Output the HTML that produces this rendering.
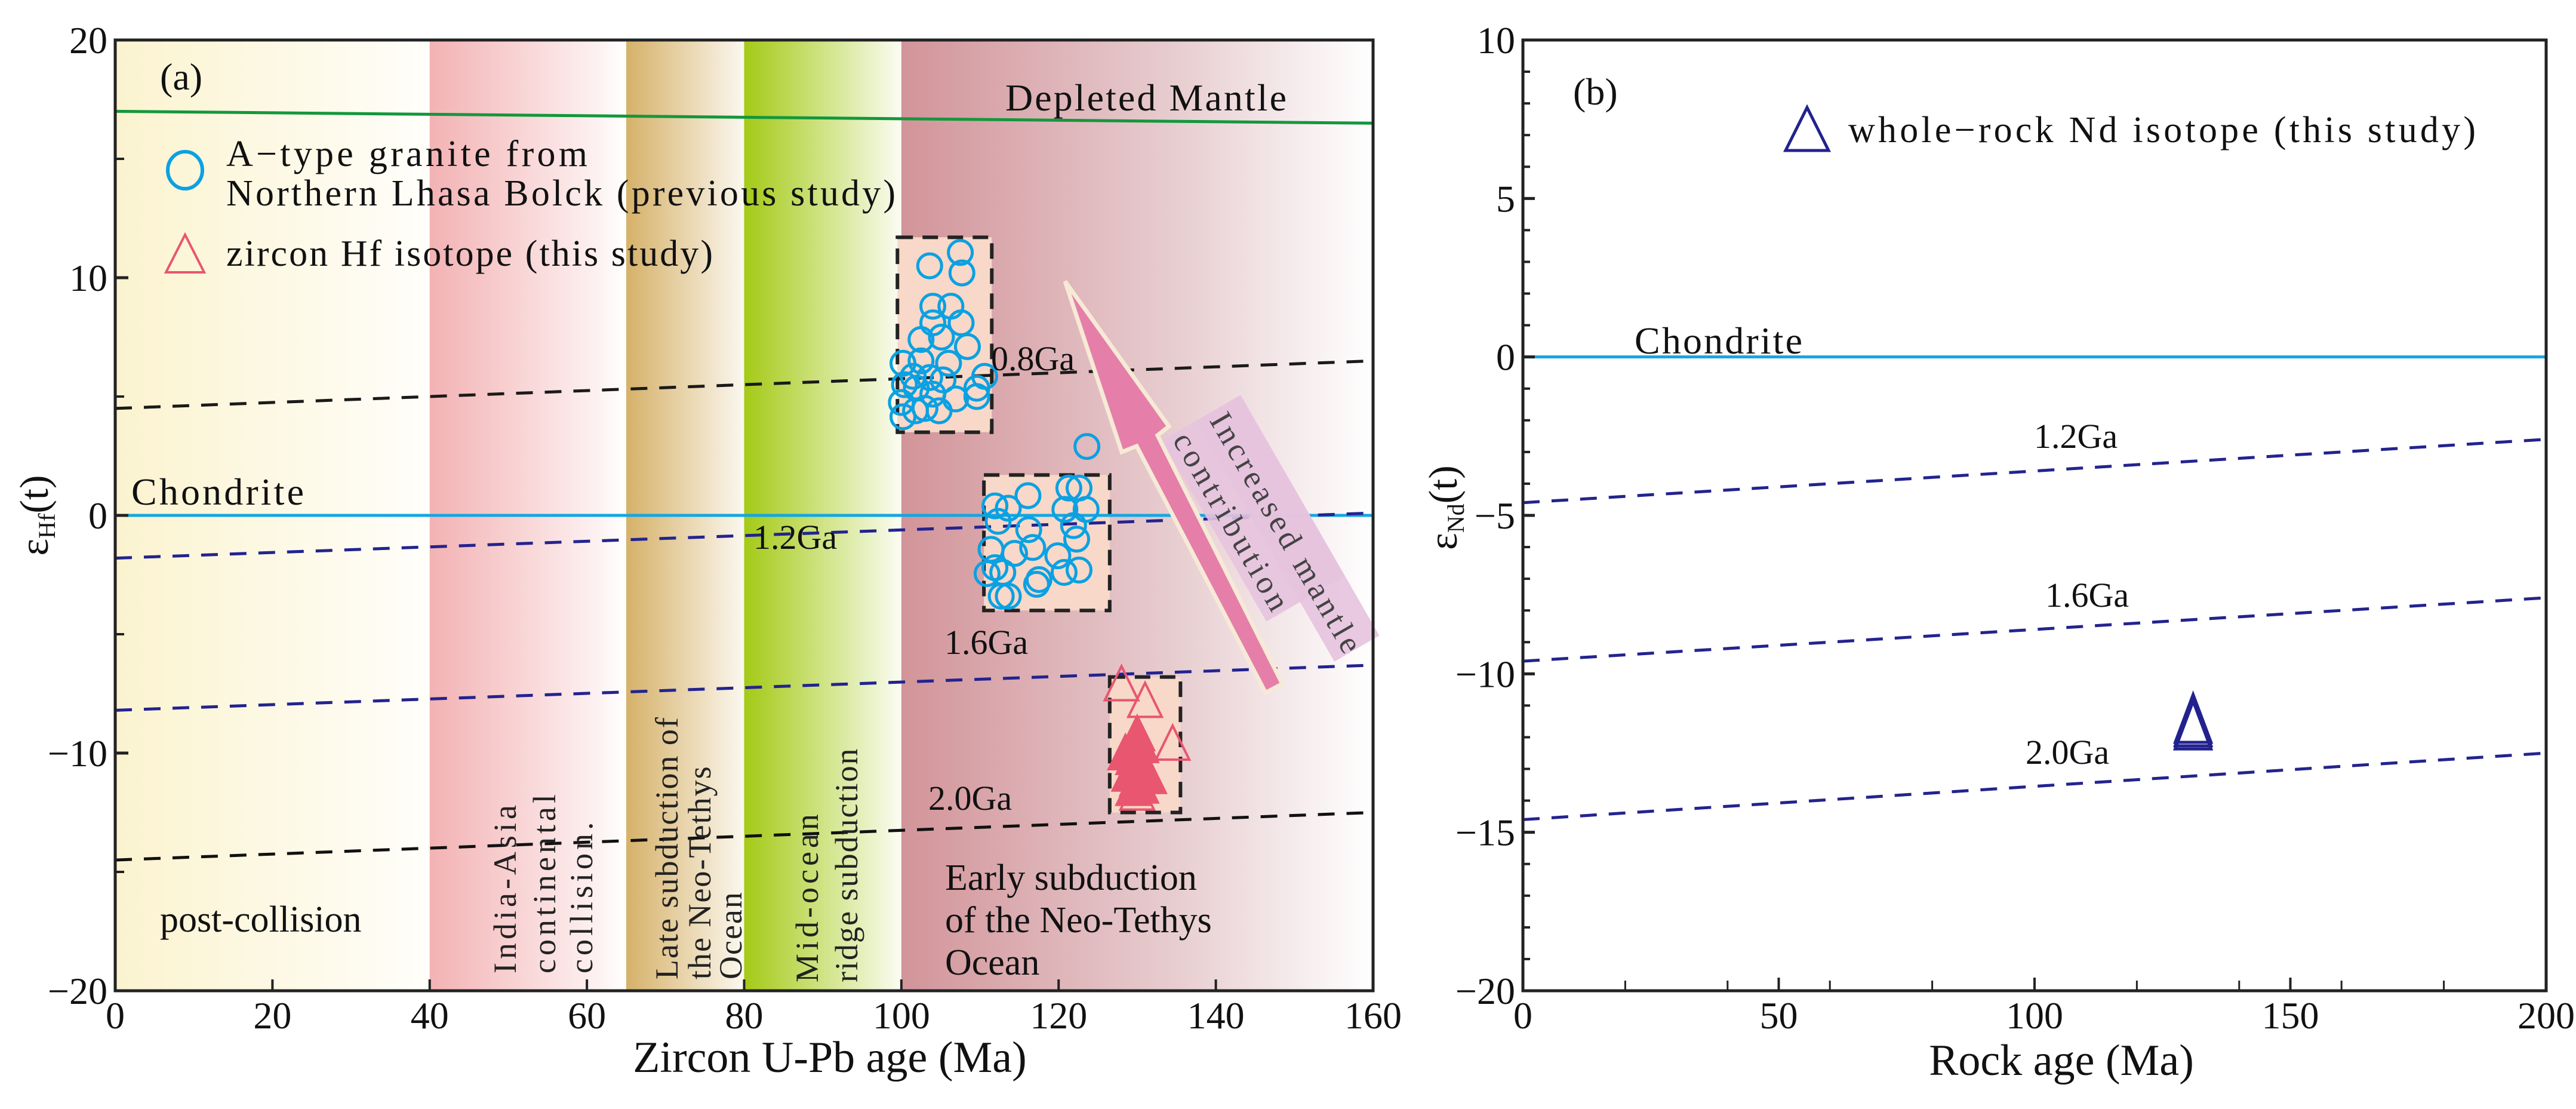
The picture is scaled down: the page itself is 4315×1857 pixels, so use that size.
<!DOCTYPE html>
<html><head><meta charset="utf-8">
<style>
html,body{margin:0;padding:0;background:#fff;}
svg, svg text{font-family:"Liberation Serif","Times New Roman",serif;}
</style></head>
<body>
<svg id="fig" width="4315" height="1852" viewBox="0 0 4315 1852" xmlns="http://www.w3.org/2000/svg" font-family="Liberation Serif, serif">
<defs>
<linearGradient id="gY" x1="0" x2="1" y1="0" y2="0"><stop offset="0" stop-color="#fbf3cf"/><stop offset="1" stop-color="#fffefa"/></linearGradient>
<linearGradient id="gP" x1="0" x2="1" y1="0" y2="0"><stop offset="0" stop-color="#f3b2b4"/><stop offset="0.85" stop-color="#fdf1f1"/><stop offset="1" stop-color="#ffffff"/></linearGradient>
<linearGradient id="gT" x1="0" x2="1" y1="0" y2="0"><stop offset="0" stop-color="#d6b169"/><stop offset="1" stop-color="#fbf8f0"/></linearGradient>
<linearGradient id="gG" x1="0" x2="1" y1="0" y2="0"><stop offset="0" stop-color="#a4ca16"/><stop offset="1" stop-color="#fbfcf3"/></linearGradient>
<linearGradient id="gR" x1="0" x2="1" y1="0" y2="0"><stop offset="0" stop-color="#d29499"/><stop offset="0.6" stop-color="#e8cfd2"/><stop offset="1" stop-color="#ffffff"/></linearGradient>
</defs>
<g id="pa"></g>
<g id="pb"></g>
</svg>
<script>
// ---------- Panel (a) data ----------
const aBandStart=[0,40,65,80,100];
const aBandEnd=[40,65,80,100,160];
const aBandFill=["url(#gY)","url(#gP)","url(#gT)","url(#gG)","url(#gR)"];
const aRefNames=["depleted-mantle","ga-0-8","chondrite","ga-1-2","ga-1-6","ga-2-0"];
const aRefY0=[17,4.5,0,-1.8,-8.2,-14.5];
const aRefY160=[16.5,6.5,0,0.1,-6.3,-12.5];
const aRefColor=["#14973c","#1a1a1a","#12a7e3","#23238f","#23238f","#111111"];
const aRefDash=[null,"28 20",null,"28 20","28 20","28 20"];
const circX=[103.6,107.5,107.7,104,106.3,107.6,104,105.1,102.5,108.4,100.2,106,102.5,101.5,103.6,110.6,100.4,105.3,109.6,106.9,100,109.6,101.8,103,104.8,100.2,101.9,104,
 123.6,116.1,111.9,113.6,121.3,122.6,120.8,123.5,112.3,116.2,121.9,111.4,116.7,122.3,114.4,119.9,111.9,112.9,122.6,117.5,120.7,117.2,112.7,113.6,110.9];
const circY=[10.5,11.06,10.2,8.8,8.8,8.1,8.1,7.5,7.4,7.1,6.4,6.4,6.5,5.85,5.8,5.85,5.5,5.7,5.35,4.9,4.75,5,4.4,4.5,4.4,4.15,5.35,5.1,
 2.9,0.83,0.4,0.3,1.15,1.15,0.25,0.25,-0.25,-0.6,-0.43,-1.43,-1.35,-1.0,-1.6,-1.7,-2.2,-2.4,-2.3,-2.7,-2.4,-2.9,-3.4,-3.4,-2.45];
const triX=[128,131,134.5,128.5,130,130.5,129.5,130,131,129,130,131.5,130.5,129.5,130];
const triY=[-7.2,-7.9,-9.7,-10.1,-9.3,-9.8,-10.3,-10.6,-10.8,-11,-11.2,-11.1,-11.5,-11.6,-11.8];
const triFilled=[0,0,0,1,1,1,1,1,1,1,1,1,1,1,0];
const boxX0=[99.5,110.5,126.5], boxX1=[111.5,126.5,135.5], boxY0=[3.5,-4,-12.5], boxY1=[11.7,1.7,-6.8];
const aXTicks=[0,20,40,60,80,100,120,140,160];
const aYTicks=[20,10,0,-10,-20];
// ---------- Panel (b) data ----------
const bRefNames=["chondrite","ga-1-2","ga-1-6","ga-2-0"];
const bRefY0=[0,-4.6,-9.6,-14.6];
const bRefY200=[0,-2.6,-7.6,-12.5];
const bRefColor=["#12a7e3","#23238f","#23238f","#23238f"];
const bPtX=[131,131,131];
const bPtY=[-11.69,-11.8,-11.9];
const bXTicks=[0,50,100,150,200];
const bYTicks=[10,5,0,-5,-10,-15,-20];

const NS="http://www.w3.org/2000/svg";
const FF="Liberation Serif, serif";
function mk(parent,tag,attrs,text){const e=document.createElementNS(NS,tag);for(const k in attrs)e.setAttribute(k,attrs[k]);if(tag==='text')e.setAttribute('font-family',FF);if(text!==undefined)e.textContent=text;parent.appendChild(e);return e;}

const ax=v=>193+(v-0)*(2300-193)/160;
const ay=v=>67+(20-v)*(1659-67)/40;
const bx=v=>2551+v*(4265-2551)/200;
const by=v=>67+(10-v)*(1659-67)/30;

const A=document.getElementById('pa');
const B=document.getElementById('pb');
let e;
for(let i=0;i<aBandStart.length;i++){
 e=mk(A,'rect',{x:ax(aBandStart[i]),y:ay(20),width:ax(aBandEnd[i])-ax(aBandStart[i]),height:ay(-20)-ay(20),fill:aBandFill[i]});
 
 
}
for(let i=0;i<boxX0.length;i++){
 e=mk(A,'rect',{x:ax(boxX0[i]),y:ay(boxY1[i]),width:ax(boxX1[i])-ax(boxX0[i]),height:ay(boxY0[i])-ay(boxY1[i]),fill:"#f8d8c8",stroke:"#222",'stroke-width':6,'stroke-dasharray':"26 16"});
 
 
}
for(let i=0;i<aRefY0.length;i++){
 const at={x1:ax(0),y1:ay(aRefY0[i]),x2:ax(160),y2:ay(aRefY160[i]),stroke:aRefColor[i],'stroke-width':5};
 if(aRefDash[i])at['stroke-dasharray']=aRefDash[i];
 e=mk(A,'line',at);
 
 
}
// arrow label box + text (rotated frame)
const tg=mk(A,'g',{transform:"translate(2020,695) rotate(60)"});
e=mk(tg,'rect',{x:0,y:-67,width:465,height:87,fill:"#e6c3de",opacity:0.9});


e=mk(tg,'rect',{x:0,y:-67,width:350,height:152,fill:"#e6c3de",opacity:0.9});


e=mk(tg,'text',{x:10,y:0,'font-size':54,fill:"#444",textLength:455},"Increased mantle");


e=mk(tg,'text',{x:8,y:70,'font-size':54,fill:"#444",textLength:335},"contribution");


// arrow
e=mk(A,'polygon',{points:"1784,471 1958,714 1939,729 2148,1145 2120,1160 1904,747 1879,757",fill:"#e57fa9",stroke:"#f6ead6",'stroke-width':7});


for(let i=0;i<circX.length;i++){
 e=mk(A,'circle',{cx:ax(circX[i]),cy:ay(circY[i]),r:20,fill:"none",stroke:"#0ba1e2",'stroke-width':5});
 
 
}
for(let i=0;i<triX.length;i++){
 const cx=ax(triX[i]),cy=ay(triY[i]);
 e=mk(A,'polygon',{points:`${cx},${cy-34} ${cx-28},${cy+23} ${cx+28},${cy+23}`,fill:triFilled[i]?"#e8566f":"none",stroke:"#e8566f",'stroke-width':4});
 
 
}
const aLab=[["0.8Ga",1660,620],["1.2Ga",1262,919],["1.6Ga",1582,1095],["2.0Ga",1555,1356]];
aLab.forEach(l=>{e=mk(A,'text',{x:l[1],y:l[2],'font-size':58,fill:"#111"},l[0]);
 
 });
e=mk(A,'text',{x:1684,y:185,'font-size':64,fill:"#111",textLength:471},"Depleted Mantle");

e=mk(A,'text',{x:220,y:845,'font-size':64,fill:"#111",textLength:289},"Chondrite");

e=mk(A,'text',{x:268,y:150,'font-size':64,fill:"#111"},"(a)");

e=mk(A,'ellipse',{cx:310,cy:285,rx:29,ry:31,fill:"none",stroke:"#0ba1e2",'stroke-width':6});

e=mk(A,'text',{x:379,y:278,'font-size':62,fill:"#111",textLength:605},"A\u2212type granite from");

e=mk(A,'text',{x:379,y:344,'font-size':62,fill:"#111",textLength:1121},"Northern Lhasa Bolck (previous study)");

e=mk(A,'polygon',{points:"310,393 278,456 342,456",fill:"none",stroke:"#e8566f",'stroke-width':4});

e=mk(A,'text',{x:379,y:445,'font-size':62,fill:"#111",textLength:815},"zircon Hf isotope (this study)");

const vLab=[["India-Asia",846],["continental",912],["collision.",974],["Late subduction of",1117],["the Neo-Tethys",1172],["Ocean",1224],["Mid-ocean",1352],["ridge subduction",1418]];
const vBottom=[1630,1630,1630,1640,1640,1640,1645,1645];
vLab.forEach((l,i)=>{e=mk(A,'text',{x:0,y:0,'font-size':54,fill:"#222",'letter-spacing':(i<3||i===6)?6:2,transform:`translate(${l[1]+18},${vBottom[i]}) rotate(-90)`},l[0]);
 
 });
[["Early subduction",1490],["of the Neo-Tethys",1561],["Ocean",1632]].forEach(l=>{e=mk(A,'text',{x:1583,y:l[1],'font-size':62,fill:"#111"},l[0]);
 });
e=mk(A,'text',{x:268,y:1560,'font-size':62,fill:"#111"},"post-collision");

e=mk(A,'rect',{x:193,y:67,width:2107,height:1592,fill:"none",stroke:"#222",'stroke-width':5});

aXTicks.forEach(t=>{mk(A,'line',{x1:ax(t),y1:1659,x2:ax(t),y2:1640,stroke:"#222",'stroke-width':4});
 e=mk(A,'text',{x:ax(t),y:1722,'font-size':64,'text-anchor':'middle',fill:"#111"},t);
 });
for(let v=-15;v<=15;v+=10)mk(A,'line',{x1:193,y1:ay(v),x2:208,y2:ay(v),stroke:"#222",'stroke-width':4});
aYTicks.forEach(t=>{mk(A,'line',{x1:193,y1:ay(t),x2:215,y2:ay(t),stroke:"#222",'stroke-width':5});
 e=mk(A,'text',{x:180,y:ay(t)+22,'font-size':64,'text-anchor':'end',fill:"#111"},t===0?"0":(t<0?"\u2212"+(-t):t));
 });
e=mk(A,'text',{x:1390,y:1795,'font-size':74,'text-anchor':'middle',fill:"#111"},"Zircon U-Pb age (Ma)");

e=mk(A,'text',{x:0,y:0,'font-size':68,'text-anchor':'middle',fill:"#111",transform:"translate(80,863) rotate(-90)"});

e.innerHTML='ε<tspan font-size="40" dy="12">Hf</tspan><tspan dy="-12">(t)</tspan>';

// ---------- Panel (b) ----------
for(let i=0;i<bRefY0.length;i++){
 const at={x1:bx(0),y1:by(bRefY0[i]),x2:bx(200),y2:by(bRefY200[i]),stroke:bRefColor[i],'stroke-width':5};
 if(i>0)at['stroke-dasharray']="28 20";
 e=mk(B,'line',at);
 
 
}
for(let i=0;i<bPtX.length;i++){
 const cx=bx(bPtX[i]),cy=by(bPtY[i]);
 e=mk(B,'polygon',{points:`${cx},${cy-55} ${cx-30},${cy+25} ${cx+30},${cy+25}`,fill:"none",stroke:"#22228f",'stroke-width':5});
 
 
}
const bLab=[["1.2Ga",3407,750],["1.6Ga",3426,1016],["2.0Ga",3393,1279]];
bLab.forEach(l=>{e=mk(B,'text',{x:l[1],y:l[2],'font-size':58,fill:"#111"},l[0]);
 });
e=mk(B,'text',{x:2738,y:592,'font-size':64,fill:"#111",textLength:281},"Chondrite");

e=mk(B,'text',{x:2635,y:175,'font-size':64,fill:"#111"},"(b)");

e=mk(B,'polygon',{points:"3027,180 2991,252 3063,252",fill:"none",stroke:"#22228f",'stroke-width':5});

e=mk(B,'text',{x:3096,y:238,'font-size':62,fill:"#111",textLength:1051},"whole\u2212rock Nd isotope (this study)");

e=mk(B,'rect',{x:2551,y:67,width:1714,height:1592,fill:"none",stroke:"#222",'stroke-width':5});

for(let v=20;v<200;v+=20)if(v%50)mk(B,'line',{x1:bx(v),y1:1659,x2:bx(v),y2:1642,stroke:"#222",'stroke-width':3});
bXTicks.forEach(t=>{mk(B,'line',{x1:bx(t),y1:1659,x2:bx(t),y2:1637,stroke:"#222",'stroke-width':4});
 e=mk(B,'text',{x:bx(t),y:1722,'font-size':64,'text-anchor':'middle',fill:"#111"},t);
 });
for(let v=-19;v<10;v++)if(v%5)mk(B,'line',{x1:2551,y1:by(v),x2:2563,y2:by(v),stroke:"#222",'stroke-width':4});
bYTicks.forEach(t=>{mk(B,'line',{x1:2551,y1:by(t),x2:2571,y2:by(t),stroke:"#222",'stroke-width':5});
 e=mk(B,'text',{x:2538,y:by(t)+22,'font-size':64,'text-anchor':'end',fill:"#111"},t===0?"0":(t<0?"\u2212"+(-t):t));
 });
e=mk(B,'text',{x:3453,y:1800,'font-size':74,'text-anchor':'middle',fill:"#111"},"Rock age (Ma)");

e=mk(B,'text',{x:0,y:0,'font-size':68,'text-anchor':'middle',fill:"#111",transform:"translate(2440,850) rotate(-90)"});

e.innerHTML='ε<tspan font-size="40" dy="12">Nd</tspan><tspan dy="-12">(t)</tspan>';
</script>
</body></html>
